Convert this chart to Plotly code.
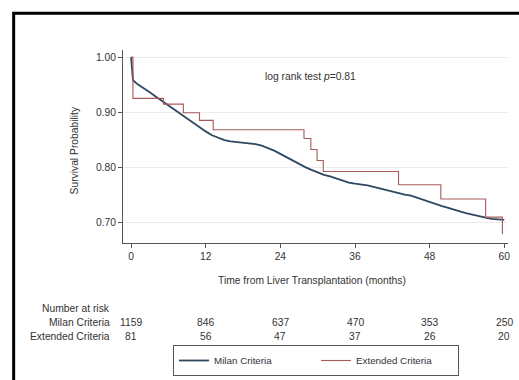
import plotly.graph_objects as go

# ---- data ----
milan_t = [0, 0.3, 1, 2, 3, 4, 5, 6, 7, 8, 9, 10, 11, 12, 13, 14, 15, 16, 17, 18, 19, 20,
           21, 22, 23, 24, 25, 26, 27, 28, 29, 30, 31, 32, 33, 34, 35, 36, 37, 38, 39, 40,
           41, 42, 43, 44, 45, 46, 47, 48, 49, 50, 51, 52, 53, 54, 55, 56, 57, 58, 59, 60]
milan_s = [1.000, 0.958, 0.951, 0.944, 0.936, 0.928, 0.920, 0.912, 0.904, 0.896, 0.888,
           0.880, 0.873, 0.865, 0.858, 0.853, 0.849, 0.847, 0.846, 0.845, 0.844, 0.842,
           0.839, 0.835, 0.830, 0.824, 0.818, 0.812, 0.805, 0.800, 0.795, 0.790, 0.786,
           0.783, 0.779, 0.775, 0.772, 0.770, 0.769, 0.767, 0.764, 0.761, 0.758, 0.755,
           0.752, 0.750, 0.748, 0.744, 0.740, 0.736, 0.732, 0.729, 0.726, 0.722, 0.719,
           0.716, 0.713, 0.710, 0.708, 0.706, 0.705, 0.704]

ext_t = [0, 0.3, 5.2, 8.4, 11.0, 13.2, 27.8, 28.9, 29.9, 30.9, 43.0, 49.8, 57.0, 59.7]
ext_s = [1.000, 0.925, 0.9145, 0.899, 0.885, 0.868, 0.852, 0.832, 0.812, 0.792, 0.768,
         0.742, 0.709, 0.678]

risk_times = [0, 12, 24, 36, 48, 60]
milan_risk = [1159, 846, 637, 470, 353, 250]
ext_risk = [81, 56, 47, 37, 26, 20]

series_names = ["Milan Criteria", "Extended Criteria"]
y_ticks = [0.70, 0.80, 0.90, 1.00]
x_ticks = [0, 12, 24, 36, 48, 60]

FONT = "Liberation Sans, Arial, sans-serif"
TXT = "#333333"
FS = 10.3

W, H = 519, 380
ML, MR, MT, MB = 123, 9, 50, 137

fig = go.Figure()
fig.add_trace(go.Scatter(x=milan_t, y=milan_s, mode="lines",
                         name=series_names[0], line=dict(color="#2f4860", width=1.8)))
fig.add_trace(go.Scatter(x=ext_t, y=ext_s, mode="lines", line_shape="hv",
                         name=series_names[1], line=dict(color="#a85a5a", width=1.1)))

def note(text, x, y, xref="paper", xanchor="center", xshift=0, angle=0):
    return dict(text=text, x=x, y=y, xref=xref, yref="paper", xanchor=xanchor,
                yanchor="middle", xshift=xshift, textangle=angle, showarrow=False,
                font=dict(size=FS, color=TXT))

ann = [
    note("log rank test <i>p</i>=0.81", 0.486, 0.865),
    note("Survival Probability", -0.127, 0.48, angle=-90),
    note("Time from Liver Transplantation (months)", 0.49, -0.192),
]
row_y = [-0.337, -0.4145, -0.482]
labels = ["Number at risk", series_names[0], series_names[1]]
for lab, yy in zip(labels, row_y):
    ann.append(note(lab, -0.028, yy, xanchor="right"))
for t, m, e in zip(risk_times, milan_risk, ext_risk):
    ann.append(note(str(m), t, row_y[1], xref="x"))
    ann.append(note(str(e), t, row_y[2], xref="x"))

fig.update_layout(
    width=W, height=H,
    margin=dict(l=ML, r=MR, t=MT, b=MB),
    paper_bgcolor="white", plot_bgcolor="white",
    font=dict(family=FONT, size=FS, color=TXT),
    showlegend=True,
    legend=dict(orientation="h", xref="container", yref="container",
                x=173 / W, y=1 - 345 / H, xanchor="left", yanchor="top",
                bordercolor="#555555", borderwidth=1, font=dict(size=9.8, color=TXT),
                entrywidth=97, entrywidthmode="pixels", itemwidth=30),
    annotations=ann,
    shapes=[dict(type="rect", xref="paper", yref="paper", x0=-0.284, x1=1.08,
                 y0=-0.85, y1=1.19, line=dict(color="black", width=3))],
)
fig.update_xaxes(range=[-1.3, 60.6], tickvals=x_ticks, ticks="outside", ticklen=4,
                 tickcolor="#555", showline=True, linecolor="#555", linewidth=1,
                 showgrid=False, zeroline=False, ticklabeloverflow="allow",
                 tickfont=dict(size=FS, color=TXT))
fig.update_yaxes(range=[0.662, 1.013], tickvals=y_ticks, tickformat=".2f", ticks="outside",
                 ticklen=4, tickcolor="#555", showline=True, linecolor="#555", linewidth=1,
                 showgrid=True, gridcolor="#ececec", gridwidth=1, zeroline=False,
                 tickfont=dict(size=FS, color=TXT))

# remove the default 8px page margin so the figure fills the 519x380 window exactly
fig.write_html("out.html",
               config={"displayModeBar": False},
               post_script="document.body.style.margin='0';"
                           "document.body.style.overflow='hidden';")
